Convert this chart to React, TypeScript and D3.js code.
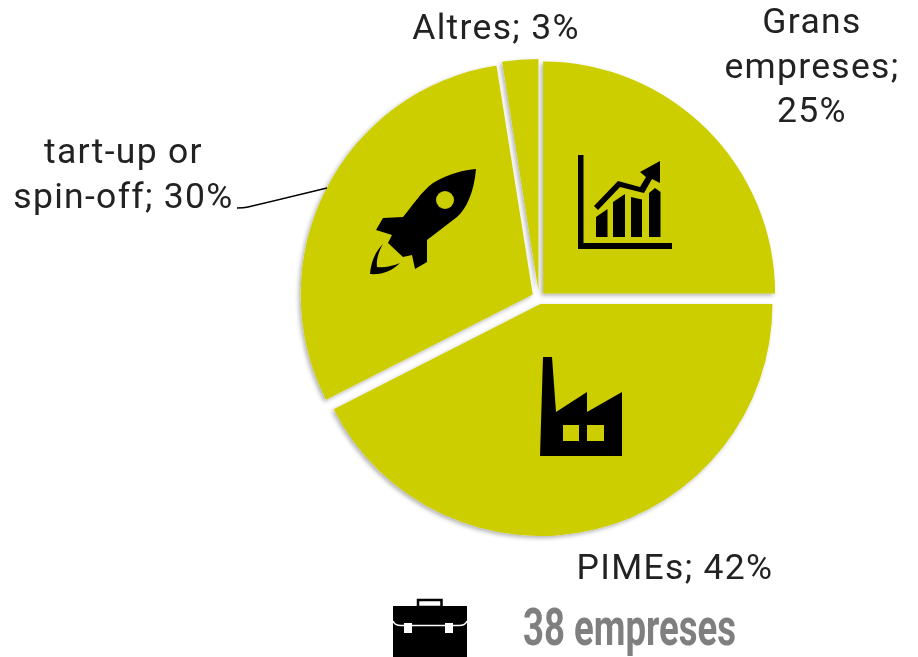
import React from "react";
import * as d3 from "d3";

const categories = ["Grans empreses", "PIMEs", "tart-up or spin-off", "Altres"];
const shares = [25, 42.5, 30, 2.5];
const explodes = [5.8, 6.4, 7, 6.8];
const total = "38 empreses";
const sliceColor = "#ccce00";
const labelFont = "Roboto, 'Noto Sans', sans-serif";

const W = 918, H = 657;
const cx = 539, cy = 297.7, radius = 232;

const arcs = d3.pie<number>().sort(null)(shares);
const arcGen = d3.arc<d3.PieArcDatum<number>>().innerRadius(0).outerRadius(radius);

const labels = [
  { lines: ["Grans", "empreses;", "25%"], x: 812, y: 33, dy: 44.5 },
  { lines: ["PIMEs; 42%"], x: 675, y: 579, dy: 0 },
  { lines: ["tart-up or", "spin-off; 30%"], x: 123.5, y: 163, dy: 45 },
  { lines: ["Altres; 3%"], x: 496, y: 39, dy: 0 },
];

export default function App() {
  return (
    <svg width={W} height={H} style={{ position: "fixed", left: 0, top: 0, background: "#fff" }}>
      <defs>
        <filter id="sh" x="-5%" y="-5%" width="110%" height="110%">
          <feDropShadow dx="-2" dy="2" stdDeviation="2.200" floodColor="#000" floodOpacity="0.3" />
        </filter>
      </defs>
      <g filter="url(#sh)">
        {arcs.map((a, i) => {
          const mid = (a.startAngle + a.endAngle) / 2;
          const ox = cx + Math.sin(mid) * explodes[i];
          const oy = cy - Math.cos(mid) * explodes[i];
          return (
            <path key={categories[i]} d={arcGen(a) || ""} transform={`translate(${ox},${oy})`} fill={sliceColor} />
          );
        })}
      </g>

      {/* chart icon */}
      <g fill="#000">
        <path d="M578 155h5.500v88H672v6h-94z" />
        <path d="M596 217l11.500-8v28H596z" />
        <path d="M613 202l12-8v43h-12z" />
        <path d="M631 197l11 2.500V237h-11z" />
        <path d="M649 193l6-5 5.500 4V237H649z" />
        <path d="M594 206L618 181L640 187L646 177L640 172L660 161V183L652 179L644 193L620 187L598 210Z" />
      </g>

      {/* rocket icon */}
      <g fill="#000">
        <path d="M476 169C464 170 450 173 433 183C422 191 412 206 403 217L383 218L376 230L392 235L388 243L403 257L412 255L415 269L427 262V240L457 217C466 209 474 193 476 169Z" />
        <circle cx="445" cy="200" r="9" fill={sliceColor} />
        <path d="M383 244C375 252 371 262 370 274C382 275 392 271 400 263C393 266 384 268 377 267C376 259 379 251 383 244Z" />
      </g>

      {/* factory icon */}
      <g fill="#000">
        <path d="M543 357h9l4 55 31-20v20l35-20v64h-82z" />
        <rect x="563" y="425" width="16" height="16" fill={sliceColor} />
        <rect x="587" y="425" width="17" height="16" fill={sliceColor} />
      </g>

      {/* briefcase icon */}
      <g>
        <rect x="418" y="600" width="23.500" height="7" fill="none" stroke="#000" strokeWidth="2.500" />
        <rect x="393" y="606" width="74" height="51" fill="#000" />
        <path d="M393 621c1 3 3 4.500 8 4.500h58c5 0 7-1.500 8-4.500" fill="none" stroke="#fff" strokeWidth="1.500" />
        <rect x="404" y="623" width="8" height="10" fill="#fff" />
        <rect x="445" y="623" width="8" height="10" fill="#fff" />
      </g>

      {/* leader line */}
      <path d="M237 208c4 0 7 0 11-1L327 188" fill="none" stroke="#000" strokeWidth="1.400" />

      {labels.map((l) =>
        l.lines.map((t, j) => (
          <text key={t} x={l.x} y={l.y + j * l.dy} textAnchor="middle" fontFamily={labelFont} fontSize="35.500" fill="#222" letterSpacing="1.300">
            {t}
          </text>
        ))
      )}
      <text x="523" y="645" fontFamily="Roboto, sans-serif" fontWeight="700" fontSize="51.500" fill="#7f7f7f" textLength="213" lengthAdjust="spacingAndGlyphs">
        {total}
      </text>
    </svg>
  );
}
